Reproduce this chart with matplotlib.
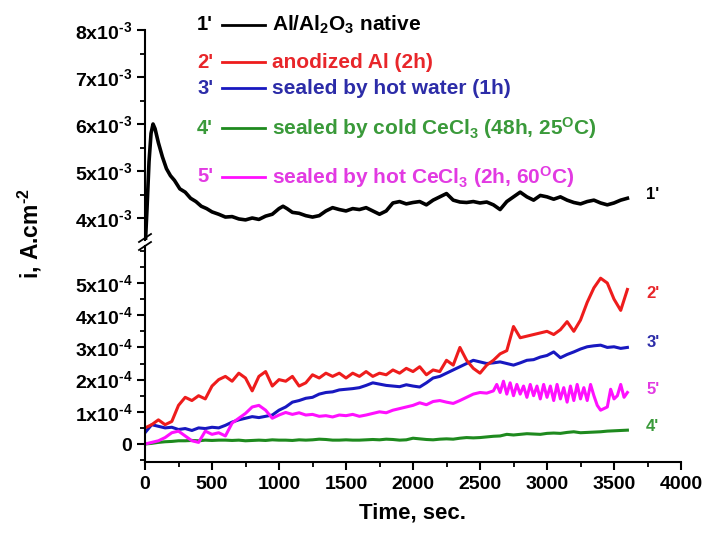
import numpy as np
import matplotlib
matplotlib.use("Agg")
import matplotlib.pyplot as plt
from matplotlib.lines import Line2D
from matplotlib.ticker import MultipleLocator

plt.rcParams["font.family"] = ["Liberation Sans", "DejaVu Sans"]
plt.rcParams["font.weight"] = "bold"
plt.rcParams["mathtext.default"] = "regular"

# ── data ─────────────────────────────────────────────────────────────────────
# native oxide curve (1'), current in 1e-3 A/cm2
t_native = [0, 15, 30, 45, 60, 75, 100, 130, 160, 190, 220, 260, 300, 340, 380,
            420, 460, 500, 550, 600, 650, 700, 750, 800, 850, 900, 950, 1000,
            1030, 1060, 1100, 1150, 1200, 1250, 1300, 1350, 1400, 1450, 1500,
            1550, 1600, 1650, 1700, 1750, 1800, 1850, 1900, 1950, 2000, 2050,
            2100, 2150, 2200, 2250, 2300, 2350, 2400, 2450, 2500, 2550, 2600,
            2650, 2700, 2750, 2800, 2850, 2900, 2950, 3000, 3050, 3100, 3150,
            3200, 3250, 3300, 3350, 3400, 3450, 3500, 3550, 3600]
i_native = [3.3, 4.2, 5.2, 5.8, 6.0, 5.9, 5.6, 5.3, 5.05, 4.9, 4.8, 4.62, 4.55,
            4.42, 4.35, 4.25, 4.2, 4.13, 4.08, 4.02, 4.03, 3.98, 3.96, 4.0,
            3.97, 4.04, 4.08, 4.2, 4.25, 4.2, 4.12, 4.1, 4.05, 4.02, 4.05, 4.15,
            4.22, 4.18, 4.15, 4.2, 4.18, 4.22, 4.15, 4.08, 4.15, 4.32, 4.35,
            4.3, 4.33, 4.35, 4.28, 4.38, 4.45, 4.52, 4.38, 4.34, 4.33, 4.35,
            4.32, 4.34, 4.28, 4.18, 4.35, 4.45, 4.55, 4.45, 4.38, 4.48, 4.45,
            4.4, 4.45, 4.38, 4.33, 4.3, 4.35, 4.38, 4.32, 4.28, 4.32, 4.38, 4.42]

# coated samples (2'-4'), sampled every 50 s, current in 1e-4 A/cm2
t_coated = np.arange(0, 3601, 50)
i_anodized = [0.5, 0.6, 0.75, 0.6, 0.7, 1.2, 1.45, 1.35, 1.5, 1.4, 1.8, 2.0,
              2.1, 1.95, 2.2, 2.05, 1.65, 2.1, 2.25, 1.8, 2.0, 1.95, 2.1, 1.8,
              1.9, 2.15, 2.05, 2.2, 2.1, 2.2, 2.05, 2.2, 2.1, 2.25, 2.1, 2.2,
              2.15, 2.3, 2.2, 2.35, 2.25, 2.4, 2.15, 2.3, 2.25, 2.6, 2.45, 3.0,
              2.6, 2.35, 2.2, 2.45, 2.6, 2.8, 2.9, 3.65, 3.3, 3.35, 3.4, 3.45,
              3.5, 3.4, 3.55, 3.8, 3.5, 3.85, 4.4, 4.85, 5.15, 5.0, 4.5, 4.15,
              4.8]
i_hot_water = [0.35, 0.6, 0.55, 0.5, 0.52, 0.45, 0.48, 0.42, 0.5, 0.48, 0.52,
               0.5, 0.58, 0.68, 0.75, 0.8, 0.85, 0.82, 0.86, 0.9, 1.05, 1.15,
               1.3, 1.35, 1.42, 1.45, 1.55, 1.6, 1.62, 1.68, 1.7, 1.72, 1.75,
               1.82, 1.9, 1.86, 1.82, 1.8, 1.78, 1.84, 1.8, 1.77, 1.9, 2.05,
               2.1, 2.2, 2.3, 2.4, 2.5, 2.6, 2.55, 2.5, 2.52, 2.55, 2.5, 2.45,
               2.52, 2.6, 2.62, 2.7, 2.75, 2.86, 2.68, 2.78, 2.86, 2.95, 3.02,
               3.05, 3.07, 3.0, 3.02, 2.97, 3.0]
i_cold_ce = [0.0, 0.02, 0.05, 0.07, 0.08, 0.1, 0.1, 0.11, 0.1, 0.12, 0.11, 0.12,
             0.12, 0.11, 0.12, 0.1, 0.11, 0.12, 0.11, 0.13, 0.12, 0.12, 0.11,
             0.13, 0.12, 0.13, 0.15, 0.14, 0.12, 0.12, 0.13, 0.12, 0.12, 0.13,
             0.14, 0.13, 0.15, 0.14, 0.12, 0.13, 0.18, 0.16, 0.14, 0.13, 0.15,
             0.16, 0.15, 0.18, 0.2, 0.19, 0.2, 0.22, 0.24, 0.25, 0.3, 0.28, 0.3,
             0.32, 0.31, 0.3, 0.33, 0.34, 0.33, 0.36, 0.38, 0.35, 0.36, 0.37,
             0.38, 0.4, 0.41, 0.42, 0.43]

# hot CeCl3 (5'): every 50 s up to 2550 s, then every 25 s (strong oscillation)
t_hot_ce = list(range(0, 2551, 50)) + list(range(2600, 3601, 25))
i_hot_ce = [0.0, 0.05, 0.1, 0.2, 0.35, 0.4, 0.25, 0.1, 0.05, 0.4, 0.3, 0.35,
            0.25, 0.65, 0.8, 0.95, 1.15, 1.2, 1.05, 0.8, 0.9, 0.98, 0.92, 0.97,
            0.9, 0.92, 0.86, 0.88, 0.84, 0.9, 0.88, 0.92, 0.86, 0.9, 0.95, 1.0,
            0.97, 1.05, 1.1, 1.15, 1.2, 1.28, 1.22, 1.32, 1.35, 1.3, 1.26, 1.35,
            1.45, 1.55, 1.6, 1.58,
            1.65, 1.85, 1.6, 1.95, 1.55, 1.9, 1.5, 1.85, 1.55, 1.8, 1.45, 1.85,
            1.5, 1.8, 1.4, 1.85, 1.45, 1.8, 1.35, 1.85, 1.4, 1.75, 1.3, 1.8,
            1.35, 1.85, 1.4, 1.75, 1.35, 1.85, 1.5, 1.2, 1.05, 1.1, 1.15, 1.7,
            1.4, 1.5, 1.85, 1.45, 1.6]

HY = "\u2010"  # short hyphen for exponents
tags = ["1'", "2'", "3'", "4'", "5'"]
legend_text = [r"Al/Al$_2$O$_3$ native",
               "anodized Al (2h)",
               "sealed by hot water (1h)",
               r"sealed by cold CeCl$_3$ (48h, 25$^O$C)",
               r"sealed by hot CeCl$_3$ (2h, 60$^O$C)"]
line_colors = ["black", "#ee1c1c", "#1818c0", "#1e8a1e", "#ff10ff"]
text_colors = ["black", "#e8262a", "#2c2ca8", "#3a9a3a", "#e23ae2"]

top_ticks = [4e-3, 5e-3, 6e-3, 7e-3, 8e-3]
top_labels = [f"{m}x10$^{{{HY}3}}$" for m in (4, 5, 6, 7, 8)]
bot_ticks = [0, 1e-4, 2e-4, 3e-4, 4e-4, 5e-4]
bot_labels = ["0"] + [f"{m}x10$^{{{HY}4}}$" for m in (1, 2, 3, 4, 5)]
x_ticks = [0, 500, 1000, 1500, 2000, 2500, 3000, 3500, 4000]

# ── figure: broken y axis as two stacked axes ───────────────────────────────
W, H = 706, 545
fig = plt.figure(figsize=(W / 100, H / 100), dpi=100)
L, R = 145 / W, 681 / W
ax_top = fig.add_axes([L, 1 - 240 / H, R - L, (240 - 30) / H])
ax_bot = fig.add_axes([L, 1 - 462 / H, R - L, (462 - 246) / H])

LW = 2.2
ax_top.plot(t_native, np.array(i_native) * 1e-3, color=line_colors[0], lw=2.6)
ax_bot.plot(t_coated, np.array(i_cold_ce) * 1e-4, color=line_colors[3], lw=LW)
ax_bot.plot(t_coated, np.array(i_hot_water) * 1e-4, color=line_colors[2], lw=LW)
ax_bot.plot(t_hot_ce, np.array(i_hot_ce) * 1e-4, color=line_colors[4], lw=LW)
ax_bot.plot(t_coated, np.array(i_anodized) * 1e-4, color=line_colors[1], lw=LW)

for ax in (ax_top, ax_bot):
    ax.set_xlim(0, 4000)
    for s in ("top", "right"):
        ax.spines[s].set_visible(False)
    ax.spines["left"].set_linewidth(1.5)
    ax.spines["bottom"].set_linewidth(1.5)
    ax.tick_params(which="major", direction="out", length=6, width=1.5,
                   labelsize=14, pad=3)
    ax.tick_params(which="minor", direction="out", length=3.5, width=1.3)
    ax.set_facecolor("none")

ax_top.spines["bottom"].set_visible(False)
ax_top.tick_params(axis="x", which="both", bottom=False, labelbottom=False)
ax_top.set_ylim(3.532e-3, 8e-3)
ax_top.set_yticks(top_ticks, top_labels)
ax_top.yaxis.set_minor_locator(MultipleLocator(0.5e-3))

ax_bot.set_ylim(-0.559e-4, 6.15e-4)
ax_bot.set_yticks(bot_ticks, bot_labels)
ax_bot.yaxis.set_minor_locator(MultipleLocator(0.5e-4))
ax_bot.set_xticks(x_ticks)
ax_bot.xaxis.set_minor_locator(MultipleLocator(250))
ax_bot.tick_params(axis="x", pad=4)

# end-of-curve tags
ax_top.text(3740, 4.49e-3, tags[0], color=text_colors[0], fontsize=12,
            va="center", ha="left")
for k, y in zip([1, 2, 4, 3], [4.69e-4, 3.14e-4, 1.68e-4, 0.53e-4]):
    ax_bot.text(3740, y, tags[k], color=text_colors[k], fontsize=12,
                va="center", ha="left")

# axis break marks on the left spine
for yc in (238, 246):
    fig.add_artist(Line2D([139 / W, 151 / W], [1 - (yc + 4) / H, 1 - (yc - 4) / H],
                          color="black", lw=1.3))

# legend block
rows_y = [25, 62, 88, 128, 177]
for k, yp in enumerate(rows_y):
    yf = 1 - yp / H
    fig.text(197 / W, yf, tags[k], color=text_colors[k], fontsize=14.5,
             va="center", ha="left")
    fig.add_artist(Line2D([222 / W, 265 / W], [yf, yf], color=line_colors[k],
                          lw=2.0))
    fig.text(272 / W, yf, legend_text[k], color=text_colors[k], fontsize=15,
             va="center", ha="left")

fig.text(30 / W, 1 - 234 / H, f"i, A.cm$^{{{HY}2}}$", rotation=90, fontsize=16.5,
         ha="center", va="center")
fig.text(413 / W, 1 - 513 / H, "Time, sec.", fontsize=16, ha="center",
         va="center")

fig.savefig("out.png", dpi=100)
